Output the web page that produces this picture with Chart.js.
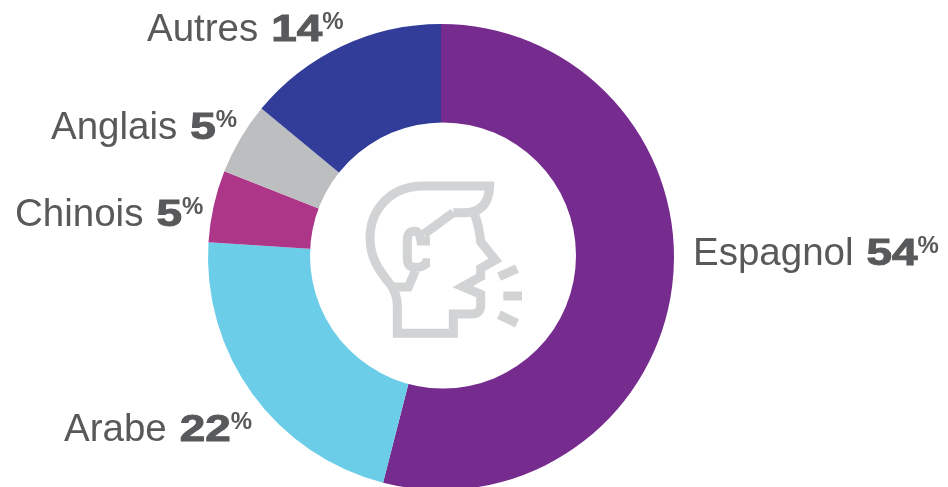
<!DOCTYPE html>
<html lang="fr">
<head>
  <meta charset="UTF-8">
  <title>Langues</title>
  <script src="https://cdn.jsdelivr.net/npm/chart.js"></script>
  <style>
    html, body { margin: 0; padding: 0; background: #fff; overflow: hidden; height: 487px; }
    canvas { display: block; }
  </style>
</head>
<body>
  <canvas id="langChart" width="948" height="514"></canvas>

  <script>
    const categories = ['Espagnol', 'Arabe', 'Chinois', 'Anglais', 'Autres'];
    const shares = [54, 22, 5, 5, 14];
    const colors = ['#762b8e', '#6bcde8', '#ae3689', '#bcbec0', '#313d98'];

    // where each label starts (left edge, baseline), same order as categories
    const labelSpots = [[693, 265], [64, 441], [15, 226], [51, 139], [147, 41]];

    const textColor = '#58595b';
    const iconColor = '#d1d3d4';

    // the hole is a little off centre in the original, so it is painted over the ring
    const offsetHole = {
      id: 'offsetHole',
      afterDatasetsDraw(chart) {
        const ctx = chart.ctx;
        ctx.save();
        ctx.fillStyle = '#fff';
        ctx.beginPath();
        ctx.arc(443, 255.5, 133, 0, Math.PI * 2);
        ctx.fill();
        ctx.restore();
      }
    };

    // the label text next to each slice: name, bold number, small raised %
    const sliceLabels = {
      id: 'sliceLabels',
      afterDraw(chart) {
        const ctx = chart.ctx;
        const stretch = 1.24; // numbers are a wide heavy face in the original
        ctx.save();
        ctx.fillStyle = textColor;
        ctx.strokeStyle = textColor;
        ctx.textBaseline = 'alphabetic';
        categories.forEach((name, i) => {
          let [x, y] = labelSpots[i];
          ctx.font = '38.5px "Liberation Sans", Arial, sans-serif';
          ctx.fillText(name, x, y);
          x += ctx.measureText(name).width + 13;

          const num = String(shares[i]);
          ctx.font = 'bold 37px "Liberation Sans", Arial, sans-serif';
          ctx.save();
          ctx.translate(x, y);
          ctx.scale(stretch, 1);
          ctx.lineWidth = 1;
          ctx.fillText(num, 0, 0);
          ctx.strokeText(num, 0, 0);
          ctx.restore();
          x += ctx.measureText(num).width * stretch;

          ctx.font = 'bold 24px "Liberation Sans", Arial, sans-serif';
          ctx.fillText('%', x, y - 12);
        });
        ctx.restore();
      }
    };

    // talking head pictogram in the hole, traced in a 3x grid
    const centerIcon = {
      id: 'centerIcon',
      afterDraw(chart) {
        const ctx = chart.ctx;
        ctx.save();
        ctx.translate(340, 160);
        ctx.scale(1 / 3, 1 / 3);
        ctx.strokeStyle = iconColor;
        ctx.lineWidth = 27;
        ctx.lineJoin = 'miter';
        ctx.lineCap = 'butt';

        // hair and back of the head, down the neck
        const head = new Path2D();
        head.moveTo(340, 158);
        head.lineTo(375, 158);
        head.quadraticCurveTo(445, 158, 449, 78);
        head.lineTo(250, 78);
        head.bezierCurveTo(150, 78, 90, 150, 90, 235);
        head.bezierCurveTo(90, 300, 125, 340, 150, 372);
        head.quadraticCurveTo(172, 400, 172, 440);
        head.lineTo(172, 520);
        head.lineTo(340, 520);
        head.lineTo(340, 462);
        head.lineTo(395, 462);
        head.quadraticCurveTo(422, 462, 422, 435);
        head.lineTo(422, 403);
        head.lineTo(368, 380);
        head.lineTo(422, 350);
        head.lineTo(422, 325);
        head.lineTo(466, 300);
        head.lineTo(422, 245);
        head.quadraticCurveTo(418, 200, 402, 158);
        ctx.stroke(head);

        // temple line and ear
        const ear = new Path2D();
        ear.moveTo(340, 158);
        ear.lineTo(252, 222);
        ctx.stroke(ear);

        const earLoop = new Path2D();
        earLoop.moveTo(270, 243);
        earLoop.lineTo(243, 243);
        earLoop.quadraticCurveTo(240, 214, 222, 214);
        earLoop.quadraticCurveTo(202, 214, 202, 240);
        earLoop.lineTo(202, 296);
        earLoop.quadraticCurveTo(202, 322, 225, 322);
        earLoop.quadraticCurveTo(252, 322, 258, 308);
        earLoop.lineTo(270, 308);
        ctx.stroke(earLoop);

        // jaw line under the ear
        const jaw = new Path2D();
        jaw.moveTo(226, 332);
        jaw.lineTo(205, 381);
        jaw.lineTo(150, 381);
        ctx.stroke(jaw);

        // speech marks
        const speech = new Path2D();
        speech.moveTo(477, 350);
        speech.lineTo(531, 326);
        speech.moveTo(490, 408);
        speech.lineTo(546, 408);
        speech.moveTo(477, 464);
        speech.lineTo(531, 490);
        ctx.stroke(speech);

        ctx.restore();
      }
    };

    new Chart(document.getElementById('langChart').getContext('2d'), {
      type: 'doughnut',
      data: {
        labels: categories,
        datasets: [{
          data: shares,
          backgroundColor: colors,
          borderWidth: 0
        }]
      },
      options: {
        responsive: false,
        animation: false,
        cutout: '50%',
        layout: { padding: { left: 208, right: 274, top: 24, bottom: 24 } },
        plugins: {
          legend: { display: false },
          tooltip: { enabled: false }
        }
      },
      plugins: [offsetHole, sliceLabels, centerIcon]
    });
  </script>
</body>
</html>
